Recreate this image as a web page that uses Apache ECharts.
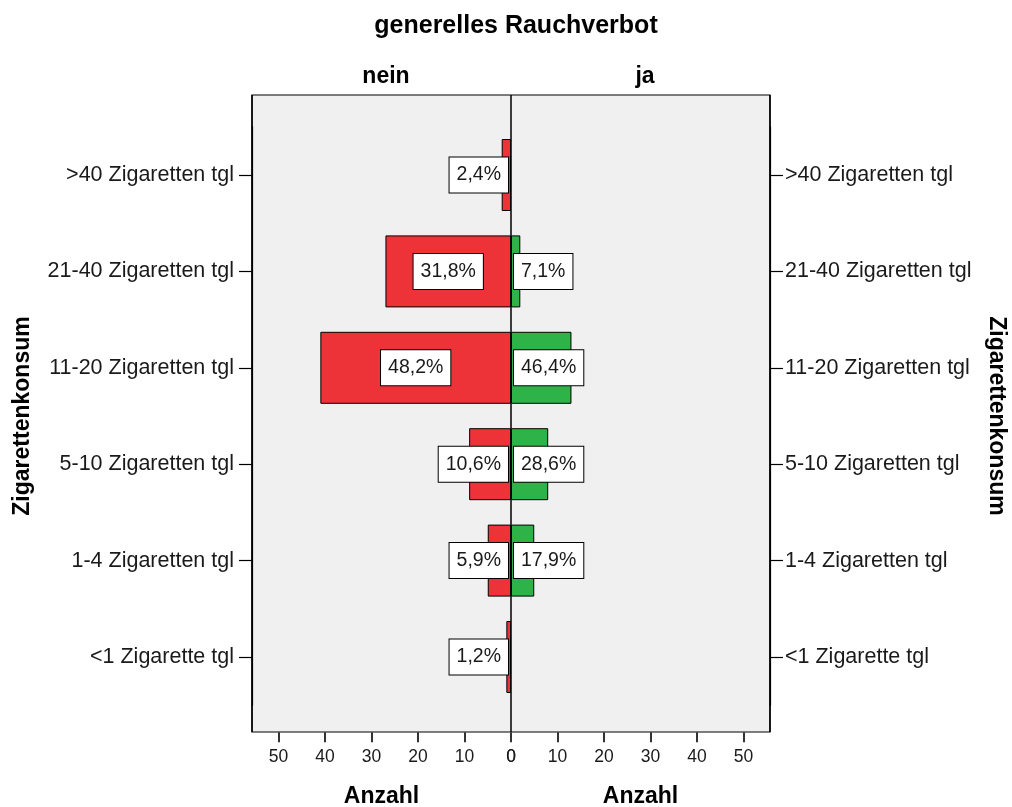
<!DOCTYPE html>
<html>
<head>
<meta charset="utf-8">
<script src="https://cdn.jsdelivr.net/npm/echarts@6/dist/echarts.min.js"></script>
<style>
  html, body { margin: 0; padding: 0; background: #ffffff; }
  #chart { width: 1012px; height: 807px; }
</style>
</head>
<body>
<div id="chart"></div>
<script>
// Cigarette consumption categories, listed bottom to top
const categories = [
  '<1 Zigarette tgl',
  '1-4 Zigaretten tgl',
  '5-10 Zigaretten tgl',
  '11-20 Zigaretten tgl',
  '21-40 Zigaretten tgl',
  '>40 Zigaretten tgl'
];
// Counts (Anzahl) per category for each group of "generelles Rauchverbot"
const neinCounts = [1, 5, 9, 41, 27, 2];
const jaCounts = [0, 5, 8, 13, 2, 0];
const groupNames = ['nein', 'ja'];
const axisTicks = [0, 10, 20, 30, 40, 50];

const FONT = 'Liberation Sans, Arial, sans-serif';
const AXIS_MAX = 55.7;

const sum = a => a.reduce((s, v) => s + v, 0);
const neinTotal = sum(neinCounts);
const jaTotal = sum(jaCounts);
const pct = (v, total) => (v / total * 100).toFixed(1).replace('.', ',') + '%';

const labelBox = {
  show: true,
  color: '#1a1a1a',
  fontFamily: FONT,
  fontSize: 19.5,
  backgroundColor: '#ffffff',
  borderColor: '#000000',
  borderWidth: 1,
  padding: [8, 7, 7, 7]
};

// Percent labels sit centred in long bars and hug the zero line on short ones
function barData(counts, total, side) {
  return counts.map(v => {
    if (v === 0) return '-';
    let position;
    if (side === 'left') position = v >= 20 ? 'inside' : 'insideRight';
    else position = v >= 20 ? 'inside' : 'insideLeft';
    return {
      value: v,
      label: Object.assign({}, labelBox, {
        position: position,
        distance: 3,
        formatter: () => pct(v, total)
      })
    };
  });
}

const catAxisBase = {
  type: 'category',
  data: categories,
  axisLine: { show: true, onZero: false, lineStyle: { color: '#000', width: 1.2 } },
  axisTick: { show: true, alignWithLabel: true, length: 13, lineStyle: { color: '#000', width: 1.2 } },
  axisLabel: { color: '#1a1a1a', fontFamily: FONT, fontSize: 21.5, margin: 15 },
  name: 'Zigarettenkonsum',
  nameLocation: 'middle',
  nameTextStyle: { color: '#000', fontFamily: FONT, fontSize: 23, fontWeight: 'bold' },
  splitLine: { show: false }
};

const valAxisBase = {
  type: 'value',
  min: 0,
  max: AXIS_MAX,
  interval: 10,
  position: 'bottom',
  offset: 27,
  axisLine: { show: false, onZero: false },
  axisTick: { show: true, length: 10, lineStyle: { color: '#333', width: 2 } },
  axisLabel: {
    color: '#1a1a1a', fontFamily: FONT, fontSize: 17.5, margin: 16,
    showMaxLabel: false,
    formatter: v => (axisTicks.indexOf(v) >= 0 ? String(v) : '')
  },
  splitLine: { show: false },
  name: 'Anzahl',
  nameLocation: 'middle',
  nameGap: 53,
  nameTextStyle: { color: '#000', fontFamily: FONT, fontSize: 23, fontWeight: 'bold' }
};

const chart = echarts.init(document.getElementById('chart'), null, { renderer: 'canvas' });

chart.setOption({
  backgroundColor: '#ffffff',
  animation: false,
  title: [
    { text: 'generelles Rauchverbot', left: 511, top: 9, textAlign: 'center',
      textStyle: { fontFamily: FONT, fontSize: 25, fontWeight: 'bold', color: '#000' } },
    { text: groupNames[0], left: 381, top: 60, textAlign: 'center',
      textStyle: { fontFamily: FONT, fontSize: 23, fontWeight: 'bold', color: '#000' } },
    { text: groupNames[1], left: 640, top: 60, textAlign: 'center',
      textStyle: { fontFamily: FONT, fontSize: 23, fontWeight: 'bold', color: '#000' } }
  ],
  grid: [
    // plot frame with the zero divider
    { left: 252, top: 95, width: 518, height: 637, show: true, outerBoundsMode: 'none',
      backgroundColor: '#f0f0f0', borderColor: '#000', borderWidth: 1.2 },
    // left half (nein)
    { left: 252, top: 126.8, width: 259, height: 578.4, outerBoundsMode: 'none' },
    // right half (ja)
    { left: 511, top: 126.8, width: 259, height: 578.4, outerBoundsMode: 'none' }
  ],
  xAxis: [
    { gridIndex: 0, type: 'value', min: -1, max: 1, interval: 1,
      axisLine: { show: false }, axisTick: { show: false }, axisLabel: { show: false },
      splitLine: { show: true, lineStyle: { color: '#000', width: 1.5 } } },
    Object.assign({}, valAxisBase, { gridIndex: 1, inverse: true }),
    Object.assign({}, valAxisBase, { gridIndex: 2 })
  ],
  yAxis: [
    { gridIndex: 0, type: 'value', min: 0, max: 1, show: false, splitLine: { show: false } },
    Object.assign({}, catAxisBase, { gridIndex: 1, position: 'left', nameGap: 218, nameRotate: 90,
      axisLabel: Object.assign({}, catAxisBase.axisLabel, { margin: 18 }) }),
    Object.assign({}, catAxisBase, { gridIndex: 2, position: 'right', nameGap: 215, nameRotate: -90 })
  ],
  series: [
    {
      name: groupNames[0], type: 'bar', xAxisIndex: 1, yAxisIndex: 1,
      barWidth: 72,
      itemStyle: { color: '#ee3338', borderColor: '#000', borderWidth: 1 },
      data: barData(neinCounts, neinTotal, 'left')
    },
    {
      name: groupNames[1], type: 'bar', xAxisIndex: 2, yAxisIndex: 2,
      barWidth: 72,
      itemStyle: { color: '#2db348', borderColor: '#000', borderWidth: 1 },
      data: barData(jaCounts, jaTotal, 'right')
    }
  ]
});
</script>
</body>
</html>
